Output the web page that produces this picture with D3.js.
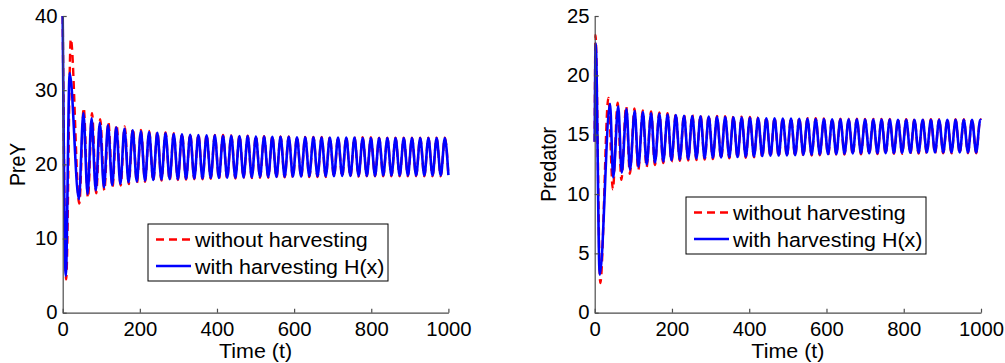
<!DOCTYPE html>
<html>
<head>
<meta charset="utf-8">
<script src="https://cdn.jsdelivr.net/npm/d3@7/dist/d3.min.js"></script>
<style>
  body { margin: 0; background: #fff; }
  svg text { font-family: "Liberation Sans", Arial, Helvetica, sans-serif; fill: #000; }
</style>
</head>
<body>
<svg id="chart" width="1005" height="363"></svg>
<script>
// ---- data ----
const timeTicks = [0, 200, 400, 600, 800, 1000];
const preyTicks = [0, 10, 20, 30, 40];
const predTicks = [0, 5, 10, 15, 20, 25];
const legendLabels = ["without harvesting", "with harvesting H(x)"];

// transient part, [t, value] at the turning points
const preyWithHStart = [[0,40],[8,5.0],[18,32.3],[42,15.3],[53.6,26.9],[64.5,16.0],[74.9,26.2],[85.8,16.5],
  [96.2,25.6],[107,16.9],[117.5,25.3],[128.3,17.2],[138.8,25.0],[149.5,17.4],[160.1,24.8],[170.8,17.6],
  [181.4,24.6],[192.1,17.7],[202.7,24.45],[213.4,17.8],[224.0,24.35]];
const preyWithoutHStart = [[0,40],[9,4.5],[21,36.9],[43,14.7],[54.5,27.6],[65.5,15.5],[76,26.9],[86.8,16.1],
  [97.2,26.1],[108,16.5],[118.4,25.7],[129,16.9],[139.6,25.35],[150.2,17.15],[160.8,25.1],[171.3,17.35],
  [181.9,24.85],[192.4,17.5],[203,24.65],[213.6,17.65],[224.2,24.5]];

// later part: turning point times and values
const preyTimes = [234.7, 245.3, 256.0, 266.6, 277.3, 287.9, 298.6, 309.2, 319.9, 330.5,
  341.2, 351.8, 362.5, 373.1, 383.8, 394.4, 405.1, 415.7, 426.4, 437.0,
  447.7, 458.3, 469.0, 479.6, 490.3, 500.9, 511.6, 522.2, 532.9, 543.5,
  554.2, 564.8, 575.5, 586.1, 596.8, 607.4, 618.1, 628.7, 639.4, 650.0,
  660.7, 671.3, 682.0, 692.6, 703.3, 713.9, 724.6, 735.2, 745.9, 756.5,
  767.2, 777.8, 788.5, 799.1, 809.8, 820.4, 831.1, 841.7, 852.4, 863.0,
  873.7, 884.3, 895.0, 905.6, 916.3, 926.9, 937.6, 948.2, 958.9, 969.5,
  980.2, 990.8, 1000];
const preyWithH = [17.9, 24.25, 17.95, 24.2, 18.0, 24.1, 18.0, 24.05, 18.05, 24.0,
  18.1, 23.95, 18.1, 23.9, 18.15, 23.9, 18.15, 23.85, 18.2, 23.85,
  18.2, 23.8, 18.25, 23.8, 18.25, 23.75, 18.3, 23.75, 18.3, 23.7,
  18.3, 23.7, 18.35, 23.7, 18.35, 23.65, 18.35, 23.65, 18.4, 23.65,
  18.4, 23.6, 18.4, 23.6, 18.4, 23.6, 18.45, 23.6, 18.45, 23.6,
  18.45, 23.55, 18.45, 23.55, 18.45, 23.55, 18.5, 23.55, 18.5, 23.55,
  18.5, 23.55, 18.5, 23.55, 18.5, 23.55, 18.5, 23.55, 18.5, 23.55,
  18.5, 23.55, 18.55];
const preyWithoutH = [17.75, 24.4, 17.8, 24.3, 17.85, 24.2, 17.9, 24.15, 17.95, 24.1,
  18.0, 24.05, 18.0, 24.0, 18.05, 23.95, 18.05, 23.95, 18.1, 23.9,
  18.1, 23.9, 18.15, 23.85, 18.15, 23.85, 18.2, 23.8, 18.2, 23.8,
  18.2, 23.75, 18.25, 23.75, 18.25, 23.75, 18.3, 23.7, 18.3, 23.7,
  18.3, 23.7, 18.3, 23.7, 18.35, 23.65, 18.35, 23.65, 18.35, 23.65,
  18.35, 23.65, 18.4, 23.65, 18.4, 23.6, 18.4, 23.6, 18.4, 23.6,
  18.4, 23.6, 18.4, 23.6, 18.4, 23.6, 18.4, 23.6, 18.4, 23.6,
  18.4, 23.6, 18.5];

const predWithHStart = [[0,14.4],[2.5,22.7],[13,3.2],[39.6,17.6],[48,11.4],[60.9,17.4],[70,11.8],[82.2,17.15],
  [91.5,12.05],[103.5,17.0],[113,12.3],[124.8,16.9],[134.5,12.5],[146.1,16.8],[156,12.65],[167.4,16.75],
  [177.5,12.75],[188.7,16.7],[198.8,12.85],[210,16.65],[220.3,12.9]];
const predWithoutHStart = [[0,14.4],[2,23.4],[14.5,2.5],[35.5,18.1],[47,10.4],[59.5,17.7],[69,11.2],[81.5,17.4],
  [91,11.7],[103,17.2],[112.7,12.0],[124.5,17.05],[134.2,12.25],[146,16.95],[155.8,12.45],[167.3,16.88],
  [177.4,12.6],[188.6,16.8],[198.8,12.72],[210,16.75],[220.3,12.8]];

const predTimes = [231.3, 242.0, 252.6, 263.3, 273.9, 284.6, 295.2, 305.9, 316.5, 327.2,
  337.8, 348.5, 359.1, 369.8, 380.4, 391.1, 401.7, 412.4, 423.0, 433.7,
  444.3, 455.0, 465.6, 476.3, 486.9, 497.6, 508.2, 518.9, 529.5, 540.2,
  550.8, 561.5, 572.1, 582.8, 593.4, 604.1, 614.7, 625.4, 636.0, 646.7,
  657.3, 668.0, 678.6, 689.3, 699.9, 710.6, 721.2, 731.9, 742.5, 753.2,
  763.8, 774.5, 785.1, 795.8, 806.4, 817.1, 827.7, 838.4, 849.0, 859.7,
  870.3, 881.0, 891.6, 902.3, 912.9, 923.6, 934.2, 944.9, 955.5, 966.2,
  976.8, 987.5, 998.1, 1000];
const predWithH = [16.6, 12.95, 16.58, 13.0, 16.55, 13.02, 16.53, 13.05, 16.5, 13.08,
  16.48, 13.1, 16.46, 13.12, 16.44, 13.15, 16.42, 13.17, 16.4, 13.2,
  16.38, 13.22, 16.37, 13.24, 16.36, 13.26, 16.35, 13.28, 16.34, 13.3,
  16.33, 13.32, 16.32, 13.34, 16.31, 13.36, 16.3, 13.38, 16.3, 13.4,
  16.29, 13.41, 16.29, 13.42, 16.28, 13.43, 16.28, 13.44, 16.27, 13.45,
  16.27, 13.46, 16.26, 13.47, 16.26, 13.48, 16.26, 13.49, 16.25, 13.5,
  16.25, 13.5, 16.25, 13.5, 16.25, 13.5, 16.25, 13.5, 16.25, 13.5,
  16.25, 13.5, 16.25, 16.2];
const predWithoutH = [16.7, 12.83, 16.67, 12.87, 16.64, 12.9, 16.61, 12.94, 16.58, 12.97,
  16.55, 13.0, 16.53, 13.03, 16.51, 13.06, 16.49, 13.09, 16.47, 13.12,
  16.45, 13.14, 16.43, 13.16, 16.42, 13.18, 16.41, 13.2, 16.4, 13.22,
  16.39, 13.24, 16.38, 13.26, 16.37, 13.28, 16.36, 13.3, 16.35, 13.32,
  16.34, 13.33, 16.34, 13.34, 16.33, 13.35, 16.33, 13.36, 16.32, 13.37,
  16.32, 13.38, 16.31, 13.39, 16.31, 13.4, 16.31, 13.41, 16.3, 13.42,
  16.3, 13.42, 16.3, 13.43, 16.3, 13.43, 16.3, 13.44, 16.3, 13.44,
  16.3, 13.44, 16.3, 16.25];

// ---- drawing ----
const fontSize = 19.5;
const stretch = 1.1;      // titles / legend text in the picture are a little wide
const tickStretch = 1.04; // tick labels
const axisColor = "#4d4d4d";

function toPoints(start, times, vals) {
  return start.map(d => ({ t: d[0], v: d[1] }))
    .concat(times.map((t, i) => ({ t: t, v: vals[i] })));
}

const panels = [
  {
    left: 62.7, right: 448.4, top: 16, bottom: 312.7,
    yMax: 40, yTicks: preyTicks, label: "PreY", labelX: 24.5,
    without: toPoints(preyWithoutHStart, preyTimes, preyWithoutH),
    withH: toPoints(preyWithHStart, preyTimes, preyWithH),
    legend: { x: 148, y: 224 }
  },
  {
    left: 594.7, right: 981, top: 16, bottom: 312.7,
    yMax: 25, yTicks: predTicks, label: "Predator", labelX: 555.5,
    without: toPoints(predWithoutHStart, predTimes, predWithoutH),
    withH: toPoints(predWithHStart, predTimes, predWithH),
    legend: { x: 686, y: 197 }
  }
];

const svg = d3.select("#chart");

panels.forEach(p => {
  const x = d3.scaleLinear().domain([0, 1000]).range([p.left, p.right]);
  const y = d3.scaleLinear().domain([0, p.yMax]).range([p.bottom, p.top]);
  const g = svg.append("g");

  const line = d3.line()
    .x(d => x(d.t))
    .y(d => y(d.v))
    .curve(d3.curveMonotoneX);

  g.append("path")
    .datum(p.without)
    .attr("d", line)
    .attr("fill", "none")
    .attr("stroke", "#ff0000")
    .attr("stroke-width", 2.4)
    .attr("stroke-dasharray", "8,5");

  g.append("path")
    .datum(p.withH)
    .attr("d", line)
    .attr("fill", "none")
    .attr("stroke", "#0000ff")
    .attr("stroke-width", 2.6)
    .attr("stroke-linejoin", "round");

  const xAxis = g.append("g")
    .attr("transform", `translate(0,${p.bottom})`)
    .call(d3.axisBottom(x).tickValues(timeTicks).tickFormat(d3.format("d"))
      .tickSize(-4).tickSizeOuter(0).tickPadding(9));
  const yAxis = g.append("g")
    .attr("transform", `translate(${p.left},0)`)
    .call(d3.axisLeft(y).tickValues(p.yTicks).tickFormat(d3.format("d"))
      .tickSize(-4).tickSizeOuter(0).tickPadding(5));

  [xAxis, yAxis].forEach(a => {
    a.select(".domain").attr("stroke", axisColor).attr("stroke-width", 1.2);
    a.selectAll(".tick line").attr("stroke", axisColor).attr("stroke-width", 1.2);
    a.selectAll(".tick text")
      .attr("font-size", fontSize)
      .attr("font-family", null)
      .attr("fill", "#000")
      .attr("transform", `scale(${tickStretch},1)`);
  });

  // axis titles
  g.append("text")
    .attr("transform", `translate(${(p.left + p.right) / 2},358) scale(${stretch},1)`)
    .attr("text-anchor", "middle")
    .attr("font-size", fontSize)
    .text("Time (t)");

  g.append("text")
    .attr("transform", `translate(${p.labelX},${(p.top + p.bottom) / 2}) scale(${stretch},1) rotate(-90)`)
    .attr("text-anchor", "middle")
    .attr("font-size", fontSize)
    .text(p.label);

  // legend
  const lg = g.append("g").attr("transform", `translate(${p.legend.x},${p.legend.y})`);
  lg.append("rect")
    .attr("x", 0).attr("y", 0)
    .attr("width", 240).attr("height", 57)
    .attr("fill", "#fff")
    .attr("stroke", "#000")
    .attr("stroke-width", 1);

  const rows = [
    { text: legendLabels[0], color: "#ff0000", dash: "8,5" },
    { text: legendLabels[1], color: "#0000ff", dash: null }
  ];
  rows.forEach((r, i) => {
    const base = 23 + i * 26.6;
    lg.append("line")
      .attr("x1", 8).attr("x2", 43)
      .attr("y1", base - 7.5).attr("y2", base - 7.5)
      .attr("stroke", r.color)
      .attr("stroke-width", 2.5)
      .attr("stroke-dasharray", r.dash);
    lg.append("text")
      .attr("transform", `translate(47,${base}) scale(${stretch},1)`)
      .attr("font-size", fontSize)
      .text(r.text);
  });
});
</script>
</body>
</html>
